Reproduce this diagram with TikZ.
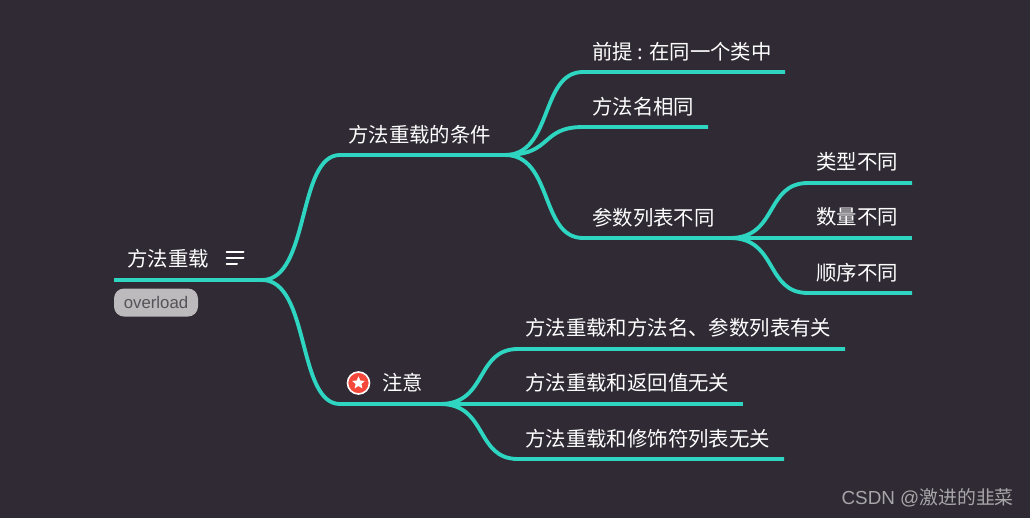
\documentclass[tikz,border=0pt]{standalone}
\usepackage{fontspec}
\setmainfont{Noto Sans CJK SC}
\newfontfamily\latinfont{Liberation Sans}
\definecolor{bgc}{HTML}{2F2A33}
\definecolor{teal}{HTML}{2ED6C2}
\definecolor{tagc}{HTML}{BDBABD}
\definecolor{tagt}{HTML}{55525A}
\definecolor{wm}{HTML}{A8A6A9}
\definecolor{starc}{HTML}{F5483B}
\usetikzlibrary{shapes.geometric}
\tikzset{
  conn/.style={draw=teal,line width=2.9pt,line cap=butt},
  lbl/.style={text=white,anchor=west,inner sep=0pt,font=\fontsize{15.3}{15.3}\selectfont},
}
\begin{document}
\begin{tikzpicture}[x=0.75pt,y=-0.75pt]
\useasboundingbox (0,0) rectangle (1030,518);
\fill[bgc] (0,0) rectangle (1030,518);
% junctions and line ends
\coordinate (rootL) at (114,280);
\coordinate (rootJ) at (262,280);
\coordinate (c1a) at (340,155);
\coordinate (c1J) at (505,155);
\coordinate (c2a) at (340,404);
\coordinate (c2J) at (440,404);
\coordinate (t1a) at (583,72);
\coordinate (t1b) at (785,72);
\coordinate (t2a) at (583,127);
\coordinate (t2b) at (708,127);
\coordinate (t3a) at (583,238);
\coordinate (t3J) at (730,238);
\coordinate (u1a) at (808,183);
\coordinate (u1b) at (912,183);
\coordinate (u2b) at (912,238);
\coordinate (u3a) at (808,293);
\coordinate (u3b) at (912,293);
\coordinate (v1a) at (518,349);
\coordinate (v1b) at (845,349);
\coordinate (v2b) at (743,404);
\coordinate (v3a) at (518,459);
\coordinate (v3b) at (784,459);
% connectors
\path[conn] (rootL) -- (rootJ);
\path[conn] (rootJ) .. controls (310,280) and (297,155) .. (c1a) -- (c1J);
\path[conn] (rootJ) .. controls (310,280) and (297,404) .. (c2a) -- (c2J);
\path[conn] (c1J) .. controls (553,155) and (540,72) .. (t1a) -- (t1b);
\path[conn] (c1J) .. controls (553,155) and (540,127) .. (t2a) -- (t2b);
\path[conn] (c1J) .. controls (553,155) and (540,238) .. (t3a) -- (t3J);
\path[conn] (t3J) .. controls (778,238) and (765,183) .. (u1a) -- (u1b);
\path[conn] (t3J) -- (u2b);
\path[conn] (t3J) .. controls (778,238) and (765,293) .. (u3a) -- (u3b);
\path[conn] (c2J) .. controls (488,404) and (475,349) .. (v1a) -- (v1b);
\path[conn] (c2J) -- (v2b);
\path[conn] (c2J) .. controls (488,404) and (475,459) .. (v3a) -- (v3b);
% labels
\node[lbl] (root) at (127,259) {方法重载};
\draw[white,line width=1.5pt,line cap=round] (226.5,252) -- (243.5,252) (226.5,258) -- (243.5,258) (226.5,264) -- (237,264);
\node[fill=tagc,rounded corners=7.5pt,minimum width=63pt,minimum height=21pt,inner sep=0pt] (tag) at (156,302.5) {};
\node[text=tagt,inner sep=0pt,font=\latinfont\fontsize{12.6}{12.6}\selectfont] (tagtxt) at (156,302.5) {overload};
\node[lbl] (n1) at (348,135) {方法重载的条件};
\node[circle,draw=white,fill=starc,line width=1.2pt,minimum size=16.5pt,inner sep=0pt] (mark) at (358.5,383) {};
\node[star,star points=5,star point ratio=2.2,fill=white,minimum size=10pt,inner sep=0pt] (starm) at (358.5,383) {};
\node[lbl] (n2) at (382,383) {注意};
\node[lbl] (a1) at (592,52) {前提 : 在同一个类中};
\node[lbl] (a2) at (592,107) {方法名相同};
\node[lbl] (a3) at (592,218) {参数列表不同};
\node[lbl] (b1) at (816,162) {类型不同};
\node[lbl] (b2) at (816,217) {数量不同};
\node[lbl] (b3) at (816,273) {顺序不同};
\node[lbl] (c1) at (525,328) {方法重载和方法名、参数列表有关};
\node[lbl] (c2) at (525,383) {方法重载和返回值无关};
\node[lbl] (c3) at (525,439) {方法重载和修饰符列表无关};
\node[text=wm,anchor=east,inner sep=0pt,font=\fontsize{14.15}{14.15}\selectfont] (wmk) at (1014,498) {{\latinfont CSDN @}激进的韭菜};
\end{tikzpicture}
\end{document}
